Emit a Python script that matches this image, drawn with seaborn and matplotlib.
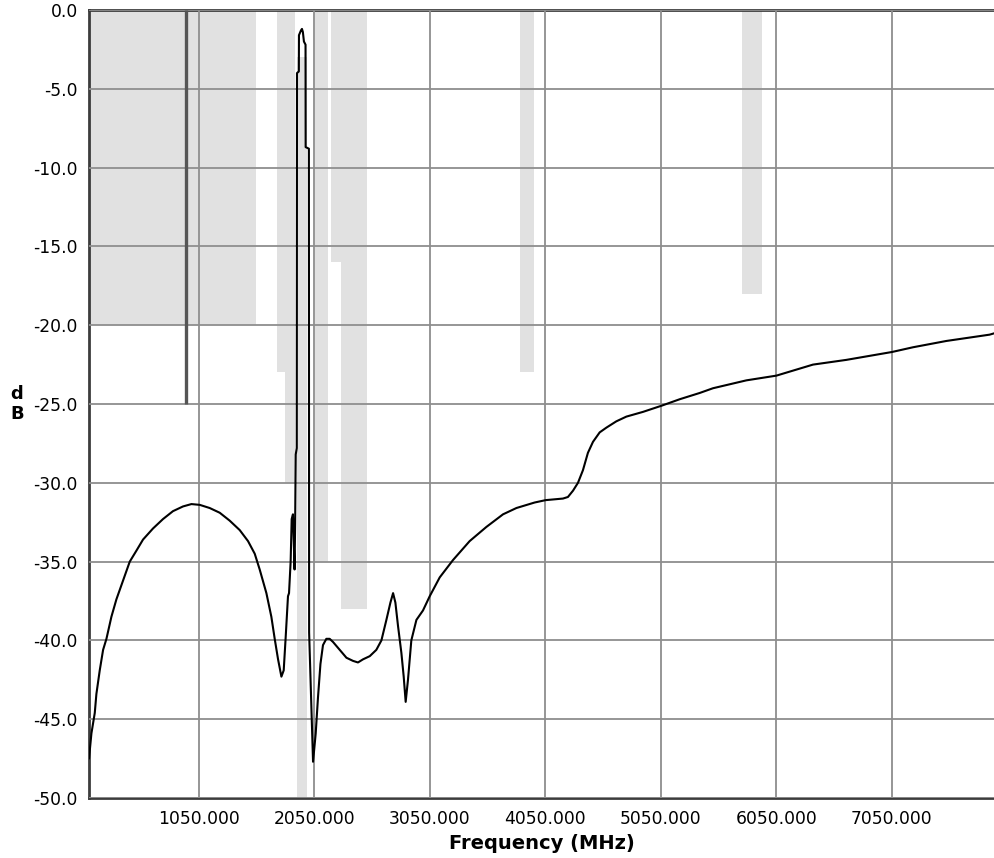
import numpy as np
import pandas as pd
import matplotlib
matplotlib.use("Agg")
import matplotlib.pyplot as plt
import seaborn as sns
from matplotlib.ticker import FixedLocator, FormatStrFormatter

# ---------------- data ----------------
freq_mhz = [100, 121, 150, 164, 193, 222, 251, 294, 337, 395, 453, 511, 568,
            654, 741, 827, 914, 987, 1059, 1145, 1232, 1318, 1405, 1477, 1535,
            1578, 1636, 1679, 1708, 1737, 1766, 1786, 1803, 1823, 1832, 1846,
            1855, 1866, 1880, 1885, 1890, 1899, 1901, 1917, 1918, 1935, 1944,
            1952, 1961, 1975, 1976, 2004, 2006, 2040, 2063, 2083, 2104, 2126,
            2155, 2184, 2213, 2271, 2329, 2386, 2429, 2473, 2531, 2588, 2632,
            2675, 2710, 2733, 2753, 2776, 2805, 2825, 2842, 2862, 2891, 2935,
            2992, 3050, 3137, 3252, 3396, 3541, 3685, 3801, 3959, 4054, 4204,
            4247, 4291, 4334, 4377, 4420, 4464, 4522, 4580, 4666, 4753, 4897,
            5061, 5214, 5388, 5503, 5792, 6052, 6369, 6658, 7053, 7235, 7524,
            7898, 7945]
response_db = [-47.5, -45.9, -44.6, -43.4, -41.9, -40.6, -39.9, -38.5, -37.4,
               -36.2, -35.0, -34.3, -33.6, -32.9, -32.3, -31.8, -31.5, -31.35,
               -31.4, -31.6, -31.9, -32.4, -33.0, -33.7, -34.5, -35.5, -37.0,
               -38.5, -39.9, -41.2, -42.3, -41.9, -39.8, -37.2, -37.0, -35.0,
               -32.3, -32.0, -35.5, -32.5, -28.2, -27.8, -4.0, -3.9, -1.6,
               -1.3, -1.2, -1.4, -2.0, -2.2, -8.7, -8.8, -39.5, -47.7, -45.9,
               -43.6, -41.5, -40.3, -39.9, -39.9, -40.1, -40.6, -41.1, -41.3,
               -41.4, -41.2, -41.0, -40.6, -40.0, -38.7, -37.6, -37.0, -37.6,
               -39.1, -40.8, -42.3, -43.9, -42.5, -40.0, -38.7, -38.1, -37.2,
               -36.0, -34.9, -33.7, -32.8, -32.0, -31.6, -31.25, -31.1, -31.0,
               -30.9, -30.5, -30.0, -29.2, -28.1, -27.4, -26.8, -26.5, -26.1,
               -25.8, -25.5, -25.1, -24.7, -24.3, -24.0, -23.5, -23.2, -22.5,
               -22.2, -21.7, -21.4, -21.0, -20.6, -20.5]

# mask bands (frequency range and dB range)
band_lo_mhz = [100, 1725, 1794, 1905, 2053, 2193, 2279, 3835, 5756]
band_hi_mhz = [1543, 1794, 1880, 1984, 2166, 2279, 2504, 3957, 5929]
band_top_db = [0, 0, 0, -3, 0, 0, 0, 0, 0]
band_bot_db = [-20, -23, -30, -50, -35, -16, -38, -23, -18]

# single marker line
marker_mhz = [937]
marker_top_db = [0]
marker_bot_db = [-25]

x_ticks = [1050, 2050, 3050, 4050, 5050, 6050, 7050]
y_ticks = [0, -5, -10, -15, -20, -25, -30, -35, -40, -45, -50]

# ---------------- plot ----------------
sns.set_theme(style="white")
plt.rcParams["font.family"] = ["DejaVu Sans"]
plt.rcParams["axes.unicode_minus"] = False
plt.rcParams["text.color"] = "black"
plt.rcParams["axes.labelcolor"] = "black"

fig = plt.figure(figsize=(9.95, 8.58), dpi=100)
ax = fig.add_axes([89 / 995, 1 - 798 / 858, (995 - 89) / 995, (798 - 10) / 858])

bands = pd.DataFrame({"lo": band_lo_mhz, "hi": band_hi_mhz,
                      "top": band_top_db, "bot": band_bot_db})
ax.bar(bands["lo"], bands["top"] - bands["bot"], width=bands["hi"] - bands["lo"],
       bottom=bands["bot"], align="edge", color="#e1e1e1", linewidth=0, zorder=1)

ax.vlines(marker_mhz, marker_bot_db, marker_top_db, color="#555555",
          linewidth=2.4, zorder=2.6)

df = pd.DataFrame({"Frequency": freq_mhz, "dB": response_db})
sns.lineplot(data=df, x="Frequency", y="dB", ax=ax, color="black",
             linewidth=1.5, sort=False, estimator=None, zorder=3)

ax.set_xlim(100, 7945)
ax.set_ylim(-50, 0)
ax.xaxis.set_major_locator(FixedLocator(x_ticks))
ax.yaxis.set_major_locator(FixedLocator(y_ticks))
ax.xaxis.set_major_formatter(FormatStrFormatter("%.3f"))
ax.yaxis.set_major_formatter(FormatStrFormatter("%.1f"))

ax.set_axisbelow(False)
ax.grid(True, color="#8e8e8e", linewidth=1.3, zorder=2.5)
for gl in ax.get_xgridlines() + ax.get_ygridlines():
    gl.set_zorder(2.5)

ax.tick_params(axis="both", length=0, labelsize=12.3, colors="black",
               labelcolor="black")
ax.tick_params(axis="x", pad=9)
ax.tick_params(axis="y", pad=8)

for side in ["top", "left", "bottom"]:
    ax.spines[side].set_visible(True)
    ax.spines[side].set_color("#3c3c3c")
    ax.spines[side].set_linewidth(2.0)
ax.spines["right"].set_visible(False)

ax.set_xlabel("Frequency (MHz)", fontsize=14, fontweight="bold", labelpad=4,
              color="black")
ax.set_ylabel("d\nB", fontsize=13, fontweight="bold", rotation=0,
              ha="center", va="center", linespacing=1.1, color="black")
ax.yaxis.set_label_coords(-0.0795, 0.5)

fig.savefig("out.png", dpi=100)
